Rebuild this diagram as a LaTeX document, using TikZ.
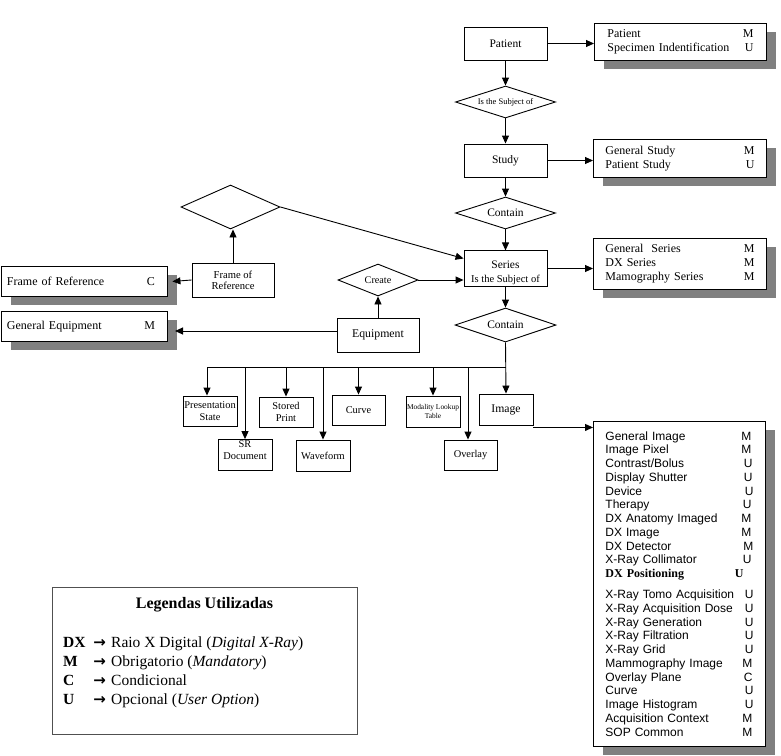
\documentclass[tikz,border=0pt]{standalone}
\usepackage{fontspec}
\setmainfont{Liberation Serif}
\newfontfamily\arialf{Liberation Sans}
\newfontfamily\dejavu{DejaVu Sans}
\usetikzlibrary{arrows.meta,shapes.geometric,shadows}
\definecolor{shadowgray}{RGB}{128,128,128}
\definecolor{legborder}{RGB}{80,80,80}
\newcommand{\legarrow}{\makebox[15pt][c]{\dejavu\bfseries\fontsize{15}{19}\selectfont →}}
\begin{document}
\begin{tikzpicture}[x=1pt,y=-1pt,
  ln/.style={line width=0.9pt,draw=black},
  arr/.style={ln,-{Triangle[length=8pt,width=7pt]}},
  ent/.style={draw,line width=0.9pt,rectangle,inner sep=1pt,align=center,fill=white},
  rel/.style={draw,line width=0.9pt,diamond,inner sep=0pt,shape aspect=3,align=center,fill=white},
  attr/.style={draw,line width=0.9pt,rectangle,fill=white,anchor=north west,align=left,
    inner ysep=0pt,font=\fontsize{12}{14}\selectfont,
    general shadow={fill=shadowgray,draw=none,shadow xshift=10pt,shadow yshift=-9pt}},
  small/.style={font=\fontsize{10.4}{12}\selectfont}
]
\useasboundingbox (0,0) rectangle (781,755);

% main chain
\node[ent,minimum width=83pt,minimum height=33pt,font=\fontsize{11.5}{13}\selectfont] (patient) at (505.5,43.5) {Patient};
\node[rel,minimum width=100pt,minimum height=32pt,font=\fontsize{8.5}{10}\selectfont] (subj) at (505.5,102) {Is the Subject of};
\node[ent,minimum width=83pt,minimum height=33pt,font=\fontsize{11.5}{13}\selectfont] (study) at (505.5,160.5) {Study};
\node[rel,minimum width=100pt,minimum height=32pt,font=\fontsize{11.5}{13}\selectfont] (contain1) at (505.5,213) {Contain};
\node[ent,minimum width=83pt,minimum height=33pt,font=\fontsize{11}{14}\selectfont] (series) at (505.5,268.5)
  {\rule{0pt}{17pt}{\fontsize{11.5}{14}\selectfont Series}\\{\fontsize{10.5}{14}\selectfont Is the Subject of}};
\node[rel,minimum width=101pt,minimum height=34pt,font=\fontsize{11.5}{13}\selectfont] (contain2) at (505.5,325) {Contain};

% attribute boxes on the right
\node[attr,text width=146pt,inner xsep=13pt,minimum height=37pt] (pattr) at (594,23)
  {Patient\hfill M\\Specimen Indentification\hfill U};
\node[attr,text width=149pt,inner xsep=12pt,minimum height=38pt] (sattr) at (593,139)
  {General Study\hfill M\\Patient Study\hfill U};
\node[attr,text width=149pt,inner xsep=12pt,minimum height=51pt] (serattr) at (593,238)
  {General~ Series\hfill M\\DX Series\hfill M\\Mamography Series\hfill M};

% left side
\node[rel,minimum width=99pt,minimum height=44pt,shape aspect=2.2] (estab) at (230.5,207) {};
\node[ent,minimum width=82pt,minimum height=34pt,font=\fontsize{10.6}{11}\selectfont] (forbox) at (233,280) {Frame of\\Reference};
\node[attr,text width=154pt,inner xsep=6pt,minimum height=30pt] (forattr) at (0.5,266)
  {Frame of Reference\hfill C\rule{6pt}{0pt}};
\node[attr,text width=154pt,inner xsep=6pt,minimum height=30pt] (geattr) at (0.5,311)
  {General Equipment\hfill M\rule{6pt}{0pt}};
\node[rel,minimum width=80pt,minimum height=32pt,shape aspect=2.5,font=\fontsize{10.2}{12}\selectfont] (create) at (378,280) {Create};
\node[ent,minimum width=82pt,minimum height=34pt,font=\fontsize{11.8}{13}\selectfont] (equip) at (378,335) {Equipment};

% bottom row
\node[ent,small,minimum width=54pt,minimum height=30pt,inner sep=0pt] (ps) at (210,411) {Presentation\\State};
\node[ent,small,minimum width=54pt,minimum height=30pt] (sr) at (245,455) {SR\\Document\rule[-10pt]{0pt}{10pt}};
\node[ent,small,minimum width=54pt,minimum height=30pt] (sp) at (286,412) {Stored\\Print};
\node[ent,small,minimum width=54pt,minimum height=31pt] (wave) at (323,455.5) {Waveform};
\node[ent,small,minimum width=53pt,minimum height=30pt] (curve) at (358.5,410) {Curve};
\node[ent,minimum width=54pt,minimum height=31pt,inner sep=0pt,font=\fontsize{7.4}{9}\selectfont] (mlt) at (433,411.5) {Modality Lookup\\Table};
\node[ent,small,minimum width=53pt,minimum height=30pt] (overlay) at (470.5,455) {Overlay};
\node[ent,minimum width=54pt,minimum height=31pt,font=\fontsize{11.7}{13}\selectfont] (image) at (506,409.5) {Image};

% image attribute box
\node[attr,text width=148pt,inner xsep=12pt,minimum height=325pt,font=\arialf\fontsize{12}{13.75}\selectfont] (imgbox) at (593,421)
  {General Image\hfill M\rule{2pt}{0pt}\\
   Image Pixel\hfill M\rule{2pt}{0pt}\\
   Contrast/Bolus\hfill U\rule{1pt}{0pt}\\
   Display Shutter\hfill U\rule{1pt}{0pt}\\
   Device\hfill U\\
   Therapy\hfill U\rule{2pt}{0pt}\\
   DX Anatomy Imaged\hfill M\rule{2pt}{0pt}\\
   DX Image\hfill M\rule{2pt}{0pt}\\
   DX Detector\hfill M\\
   X-Ray Collimator\hfill U\rule{2pt}{0pt}\\
   {\rmfamily\bfseries DX Positioning\hfill U\rule{10pt}{0pt}}\\[7.25pt]
   X-Ray Tomo Acquisition\hfill U\\
   X-Ray Acquisition Dose\hfill U\\
   X-Ray Generation\hfill U\\
   X-Ray Filtration\hfill U\\
   X-Ray Grid\hfill U\\
   Mammography Image\hfill M\rule{1pt}{0pt}\\
   Overlay Plane\hfill C\rule{1pt}{0pt}\\
   Curve\hfill U\\
   Image Histogram\hfill U\\
   Acquisition Context\hfill M\rule{1pt}{0pt}\\
   SOP Common\hfill M\rule{1pt}{0pt}};

% legend
\node[draw=legborder,line width=1pt,rectangle,anchor=north west,minimum width=305pt,minimum height=147pt] (legend) at (52,587) {};
\node[font=\fontsize{16}{19}\selectfont\bfseries,inner sep=0pt] (legtitle) at (204.5,605) {Legendas Utilizadas};
\node[anchor=north west,inner sep=0pt,align=left] (legbody) at (63,634)
  {\fontsize{15.5}{19}\selectfont
   \begin{tabular}{@{}p{29pt}@{}l@{\hspace{4pt}}l@{}}
   \textbf{DX} & \legarrow & Raio X Digital (\textit{Digital X-Ray})\\
   \textbf{M}  & \legarrow & Obrigatorio (\textit{Mandatory})\\
   \textbf{C}  & \legarrow & Condicional\\
   \textbf{U}  & \legarrow & Opcional (\textit{User Option})
   \end{tabular}};

% free connector ends
\coordinate (busL) at (207,367);
\coordinate (busR) at (505.5,367);
\coordinate (getip) at (175,331);

% connectors: main chain
\draw[arr] (patient.south) -- (subj.north);
\draw[arr] (subj.south) -- (study.north);
\draw[arr] (study.south) -- (contain1.north);
\draw[arr] (contain1.south) -- (series.north);
\draw[arr] (series.south) -- (contain2.north);
\draw[arr] (patient.east) -- (patient.east -| pattr.west);
\draw[arr] (study.east) -- (study.east -| sattr.west);
\draw[arr] (series.east) -- (series.east -| serattr.west);

% left side connectors
\draw[arr] (forbox.north) -- (forbox.north |- estab.south);
\draw[arr] (estab.east) -- ([yshift=10pt]series.west);
\draw[arr] (forbox.west) -- ([xshift=5pt]forattr.east);
\draw[arr] (equip.north) -- (create.south);
\draw[arr] (create.east) -- (create.east -| series.west);
\draw[arr] ([yshift=4pt]equip.west) -- (getip);

% bus to bottom row
\draw[arr] (contain2.south) -- (image.north);
\draw[ln] (busL) -- (busR);
\draw[arr] (busL) -- (busL |- ps.north);
\draw[arr] (sr.north |- busL) -- (sr.north);
\draw[arr] (sp.north |- busL) -- (sp.north);
\draw[arr] (wave.north |- busL) -- (wave.north);
\draw[arr] (curve.north |- busL) -- (curve.north);
\draw[arr] (mlt.north |- busL) -- (mlt.north);
\draw[arr] ([xshift=-2.5pt]overlay.north |- busL) -- ([xshift=-2.5pt]overlay.north);
\draw[arr] ([yshift=-2pt]image.south east) -- ([yshift=-2pt]image.south east -| imgbox.west);
\end{tikzpicture}
\end{document}
